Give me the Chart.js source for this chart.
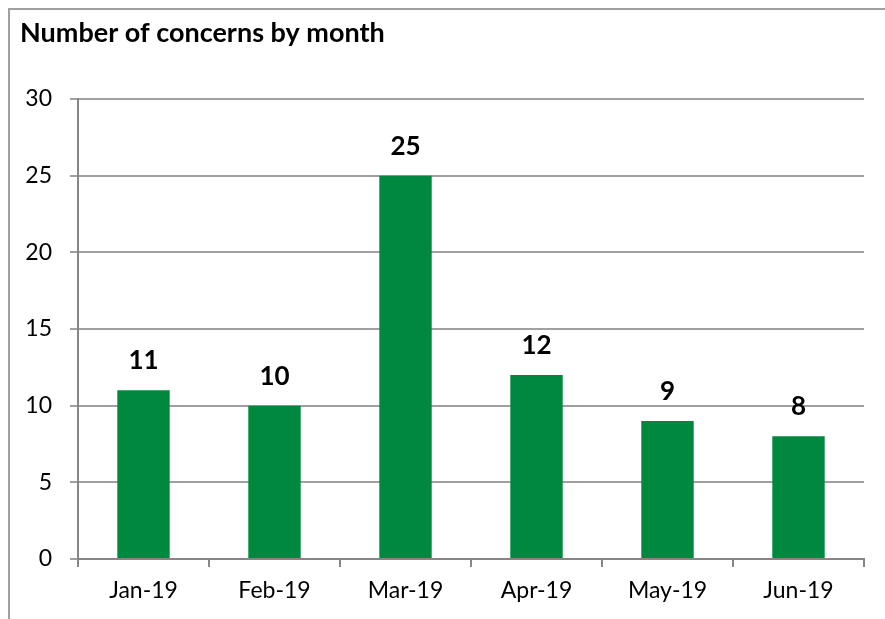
<!DOCTYPE html>
<html>
<head>
<meta charset="utf-8">
<script src="https://cdn.jsdelivr.net/npm/chart.js@4/dist/chart.umd.min.js"></script>
<style>
  html, body { margin: 0; padding: 0; background: #ffffff; }
  #wrap { position: relative; width: 885px; height: 619px; }
</style>
</head>
<body>
<div id="wrap"><canvas id="c" width="885" height="619"></canvas></div>
<script>
const chartTitle = "Number of concerns by month";
const categories = ["Jan-19", "Feb-19", "Mar-19", "Apr-19", "May-19", "Jun-19"];
const concerns = [11, 10, 25, 12, 9, 8];
const yTicks = [0, 5, 10, 15, 20, 25, 30];

const FONT = "Lato, 'Open Sans', 'Liberation Sans', sans-serif";

const framePlugin = {
  id: 'frame',
  beforeDraw(chart) {
    const ctx = chart.ctx;
    ctx.save();
    ctx.fillStyle = '#ffffff';
    ctx.fillRect(0, 0, chart.width, chart.height);
    ctx.strokeStyle = '#a0a0a0';
    ctx.lineWidth = 2;
    ctx.beginPath();
    ctx.moveTo(9, chart.height + 2);
    ctx.lineTo(9, 9);
    ctx.lineTo(chart.width + 2, 9);
    ctx.stroke();
    ctx.fillStyle = '#000000';
    ctx.font = "bold 27px " + FONT;
    ctx.textAlign = 'left';
    ctx.textBaseline = 'alphabetic';
    ctx.fillText(chartTitle, 20, 42);
    ctx.restore();
  }
};

const valueLabels = {
  id: 'valueLabels',
  afterDatasetsDraw(chart) {
    const ctx = chart.ctx;
    const meta = chart.getDatasetMeta(0);
    ctx.save();
    ctx.fillStyle = '#000000';
    ctx.font = "bold 26px " + FONT;
    ctx.textAlign = 'center';
    ctx.textBaseline = 'alphabetic';
    meta.data.forEach((bar, i) => {
      ctx.fillText(String(chart.data.datasets[0].data[i]), bar.x, bar.y - 21);
    });
    ctx.restore();
  }
};

new Chart(document.getElementById('c'), {
  type: 'bar',
  data: {
    labels: categories,
    datasets: [{
      data: concerns,
      backgroundColor: '#00893E',
      borderWidth: 0,
      categoryPercentage: 1.0,
      barPercentage: 0.4
    }]
  },
  options: {
    responsive: false,
    animation: false,
    devicePixelRatio: 1,
    layout: { padding: { top: 99, right: 21, left: 0, bottom: 0 } },
    plugins: { legend: { display: false }, title: { display: false }, tooltip: { enabled: false } },
    scales: {
      x: {
        offset: true,
        grid: {
          offset: true,
          drawOnChartArea: false,
          drawTicks: true,
          tickLength: 8,
          color: '#868686',
          lineWidth: 2
        },
        border: { display: true, color: '#868686', width: 2 },
        ticks: {
          color: '#000000',
          font: { family: FONT, size: 23 },
          padding: 10,
          maxRotation: 0
        },
        afterFit(scale) { scale.height = 60; }
      },
      y: {
        min: 0,
        max: 30,
        afterBuildTicks(scale) { scale.ticks = yTicks.map(v => ({ value: v })); },
        grid: {
          color: '#a0a0a0',
          lineWidth: 2,
          drawTicks: true,
          tickLength: 8,
          tickColor: '#a0a0a0'
        },
        border: { display: true, color: '#868686', width: 2 },
        ticks: {
          color: '#000000',
          font: { family: FONT, size: 23 },
          padding: 18
        },
        afterFit(scale) { scale.width = 78; }
      }
    }
  },
  plugins: [framePlugin, valueLabels]
});
</script>
</body>
</html>
